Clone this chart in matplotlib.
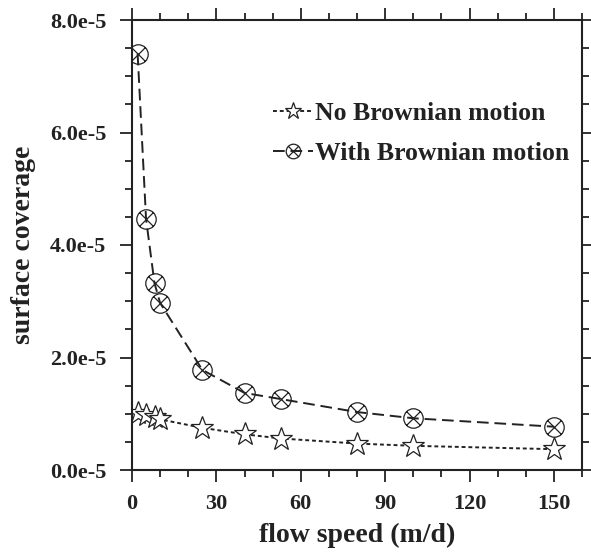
import matplotlib
matplotlib.use("Agg")
import matplotlib.pyplot as plt
from matplotlib.path import Path
from matplotlib.ticker import MultipleLocator
import numpy as np

flow_speed = [2, 5, 8, 10, 25, 40, 53, 80, 100, 150]
no_brownian = [1.01e-5, 0.98e-5, 0.94e-5, 0.90e-5, 0.75e-5, 0.635e-5, 0.56e-5, 0.47e-5, 0.43e-5, 0.37e-5]
with_brownian = [7.40e-5, 4.46e-5, 3.32e-5, 2.97e-5, 1.78e-5, 1.37e-5, 1.26e-5, 1.03e-5, 0.92e-5, 0.77e-5]
y_ticks = [0, 2e-5, 4e-5, 6e-5, 8e-5]
y_ticklabels = ["0.0e-5", "2.0e-5", "4.0e-5", "6.0e-5", "8.0e-5"]
x_ticks = [0, 30, 60, 90, 120, 150]

plt.rcParams['font.family'] = ['Liberation Serif', 'DejaVu Serif']
plt.rcParams['font.weight'] = 'bold'

col = '#222222'
c = 0.7071
circx = Path.make_compound_path(
    Path.unit_circle(),
    Path([[-c, -c], [c, c]], [Path.MOVETO, Path.LINETO]),
    Path([[-c, c], [c, -c]], [Path.MOVETO, Path.LINETO]),
)

fig = plt.figure(figsize=(5.91, 5.54), dpi=100)
ax = fig.add_axes([132/591, 1-470/554, 450/591, 450/554])

ax.plot(flow_speed, no_brownian, linestyle=(0, (2.0, 1.5)), color=col, lw=1.4,
        marker='*', markersize=17, markerfacecolor='white', markeredgecolor=col,
        markeredgewidth=0.9, label='No Brownian motion')
ax.plot(flow_speed, with_brownian, linestyle=(0, (6, 3)), color=col, lw=1.4,
        marker=circx, markersize=14, markerfacecolor='none', markeredgecolor=col,
        markeredgewidth=0.9, label='With Brownian motion')

ax.set_xlim(0, 160)
ax.set_ylim(0, 8e-5)
ax.set_yticks(y_ticks)
ax.set_yticklabels(y_ticklabels)
ax.set_xticks(x_ticks)
ax.xaxis.set_minor_locator(MultipleLocator(10))
ax.yaxis.set_minor_locator(MultipleLocator(0.5e-5))

for s in ax.spines.values():
    s.set_linewidth(1.5)
    s.set_color(col)

ax.tick_params(which='both', direction='out', top=True, right=True, color=col, width=1.3)
ax.tick_params(which='major', length=8.6, labelsize=16, pad=10, labelcolor=col)
ax.tick_params(which='minor', length=5)
ax.tick_params(axis='x', which='major', pad=9)

ax.set_xlabel('flow speed (m/d)', fontsize=20, fontweight='bold', color=col, labelpad=6)
ax.set_ylabel('surface coverage', fontsize=20, fontweight='bold', color=col, labelpad=10)

leg = ax.legend(loc='upper left', bbox_to_anchor=(0.313, 0.817), frameon=False,
                prop={'size': 18.5, 'weight': 'bold'}, handlelength=1.55,
                handletextpad=0.1, labelspacing=0.66, borderaxespad=0.0,
                borderpad=0.0, markerscale=0.75)
for t in leg.get_texts():
    t.set_color(col)

fig.savefig('out.png', dpi=100)
